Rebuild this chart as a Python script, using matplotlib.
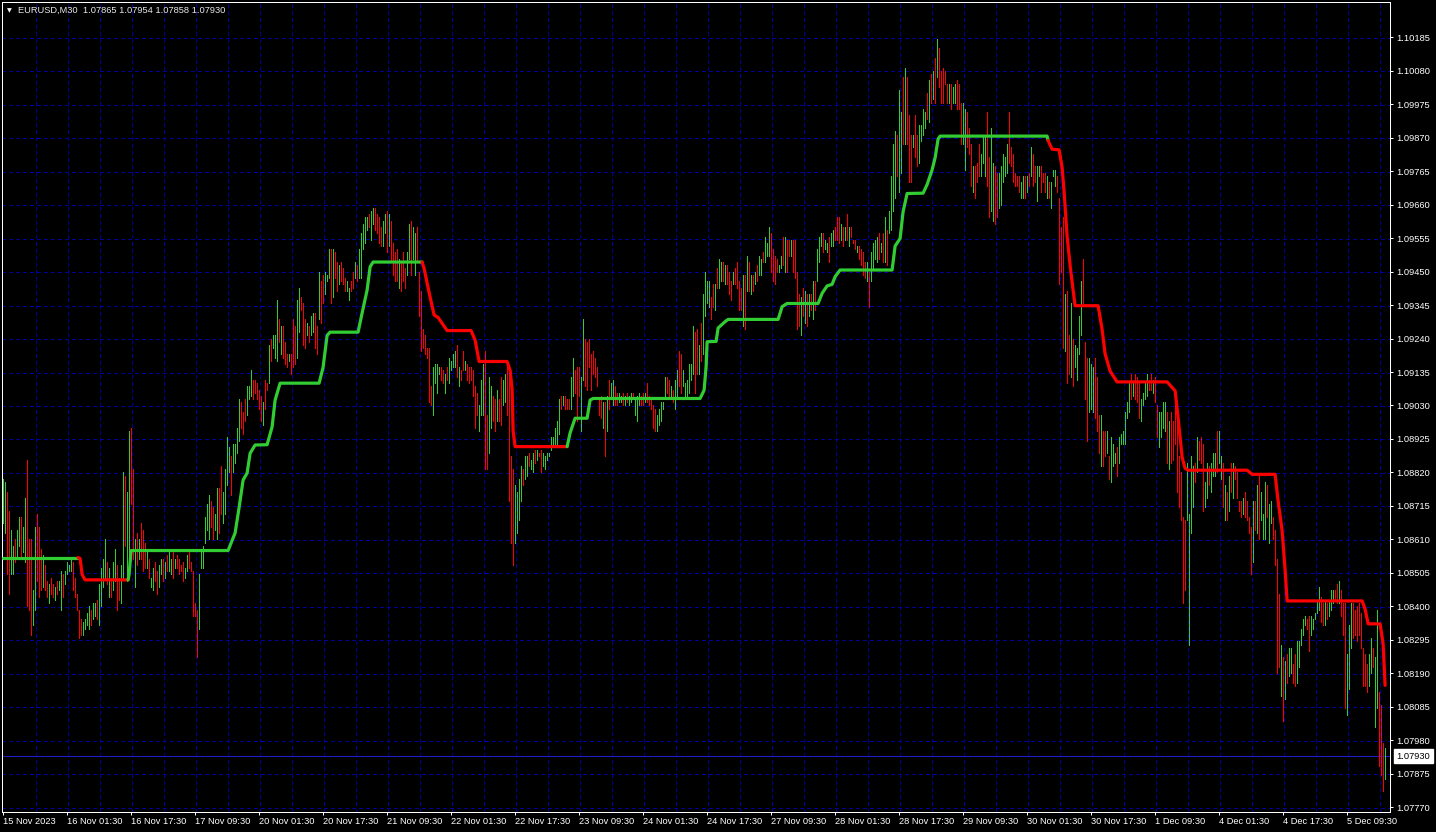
import math
import matplotlib
matplotlib.use('Agg')
import matplotlib.pyplot as plt
from matplotlib.collections import LineCollection
from matplotlib.lines import Line2D
import matplotlib.transforms as mtransforms

plt.rcParams['font.family'] = ['Liberation Sans', 'DejaVu Sans']

# EURUSD M30 bars, values in pips above 1.07000 (1 pip = 0.0001)
BASE = 1.07
HIGH = [
    180, 179, 176, 170, 164, 159, 161, 164, 168, 168,
    165, 174, 186, 161, 161, 145, 165, 169, 165, 158,
    156, 153, 148, 147, 149, 147, 146, 148, 148, 151,
    150, 151, 154, 153, 155, 154, 149, 144, 139, 136,
    135, 136, 138, 140, 139, 141, 141, 142, 147, 152,
    155, 161, 154, 152, 149, 154, 158, 153, 149, 153,
    182, 181, 176, 195, 196, 183, 161, 163, 161, 166,
    164, 160, 157, 155, 149, 152, 154, 151, 153, 155,
    155, 154, 156, 157, 155, 157, 155, 156, 155, 153,
    154, 152, 156, 157, 154, 151, 141, 139, 150, 157,
    159, 168, 172, 175, 173, 171, 169, 177, 177, 184,
    176, 183, 193, 190, 187, 191, 191, 196, 205, 204,
    201, 205, 209, 209, 214, 211, 211, 210, 208, 206,
    204, 211, 210, 222, 224, 225, 225, 236, 230, 228,
    228, 223, 219, 219, 219, 230, 228, 236, 240, 237,
    235, 230, 229, 228, 231, 232, 232, 228, 245, 242,
    244, 245, 244, 252, 252, 252, 251, 248, 247, 248,
    246, 243, 242, 240, 242, 245, 248, 247, 252, 257,
    260, 262, 262, 263, 264, 265, 265, 263, 262, 259,
    261, 263, 264, 263, 261, 254, 251, 252, 249, 248,
    251, 246, 251, 260, 261, 259, 257, 259, 245, 239,
    227, 225, 221, 221, 209, 215, 216, 216, 215, 215,
    214, 213, 215, 218, 217, 219, 220, 222, 215, 214,
    220, 217, 216, 215, 215, 214, 209, 207, 203,
    211, 216, 220, 200, 212, 209, 206, 205, 208, 205,
    212, 211, 213, 216, 215, 187, 183, 178, 176, 180,
    184, 183, 187, 187, 188, 186, 188, 189, 189, 188,
    189, 188, 187, 188, 188, 193, 193, 196, 198, 205,
    206, 206, 206, 205, 205, 212, 218, 214, 215, 215,
    212, 230, 224, 223, 224, 219, 220, 218, 215, 205,
    206, 204, 204, 206, 211, 210, 211, 209, 207, 207,
    206, 207, 206, 207, 206, 207, 207, 205, 206, 207,
    206, 207, 207, 210, 206, 205, 203, 202, 200, 202,
    204, 204, 212, 212, 211, 209, 208, 211, 214, 220,
    219, 214, 210, 211, 216, 216, 228, 226, 227, 222,
    229, 238, 245, 242, 242, 237, 241, 241, 246, 249,
    248, 248, 247, 247, 245, 242, 245, 246, 248, 242,
    240, 244, 244, 250, 248, 244, 244, 245, 247, 250,
    249, 251, 256, 254, 259, 257, 252, 250, 249, 247,
    250, 256, 256, 255, 255, 255, 255, 255, 245, 238,
    237, 240, 239, 238, 238, 238, 242, 242, 252, 256,
    257, 257, 255, 254, 256, 257, 258, 259, 262, 262,
    260, 259, 259, 263, 259, 259, 255, 255, 253, 253,
    252, 251, 248, 248, 245, 251, 254, 255, 256, 257,
    254, 257, 262, 258, 264, 275, 285, 289, 288, 302,
    295, 306, 309, 306, 294, 288, 288, 294, 288, 291,
    291, 296, 295, 301, 305, 307, 308, 312, 318, 315,
    308, 309, 308, 304, 304, 304, 303, 304, 305, 304,
    298, 298, 296, 295, 290, 285, 278, 278, 279, 285,
    282, 288, 288, 295, 281, 290, 279, 278, 276, 276,
    278, 282, 281, 285, 295, 284, 282, 276, 275, 275,
    273, 275, 275, 275, 276, 284, 282, 278, 278, 278,
    278, 276, 276, 275, 273, 273, 277, 277, 275, 268,
    259, 262, 238, 239, 225, 235, 224, 222, 221, 231,
    242, 249, 223, 218, 218, 216, 215, 218, 212, 200,
    200, 195, 195, 195, 187, 193, 191, 188, 190, 193,
    194, 195, 201, 204, 210, 213, 210, 213, 212, 210,
    205, 207, 210, 213, 211, 213, 211, 212, 203, 201,
    201, 204, 204, 201, 198, 201, 198, 208, 198, 187,
    182, 168, 167, 185, 169, 187, 184, 185, 193, 192,
    193, 191, 179, 185, 184, 185, 188, 188, 195, 195,
    187, 185, 178, 176, 181, 185, 185, 184, 182, 173,
    173, 174, 176, 173, 168, 165, 173, 173, 178, 181,
    176, 169, 179, 178, 172, 173, 168, 164, 155, 144,
    128, 124, 123, 125, 127, 127, 122, 125, 129, 129,
    133, 136, 137, 136, 137, 137, 136, 138, 142, 146,
    143, 141, 142, 141, 142, 145, 145, 145, 147, 148,
    145, 141, 141, 125, 134, 141, 141, 139, 140, 141,
    138, 127, 125, 122, 125, 130, 127, 124, 139, 113,
    109, 97, 95.4,
]
LOW = [
    166, 163, 150, 144, 150, 150, 154, 155, 159, 155,
    157, 154, 140, 139, 131, 134, 139, 148, 143, 145,
    146, 145, 143, 141, 144, 143, 142, 144, 145, 139,
    143, 147, 150, 151, 151, 145, 143, 139, 130, 131,
    131, 133, 134, 133, 134, 136, 137, 136, 134, 140,
    146, 149, 147, 143, 143, 145, 148, 139, 142, 141,
    149, 159, 148, 154, 172, 155, 146, 153, 155, 155,
    151, 152, 152, 149, 146, 145, 148, 144, 146, 150,
    148, 149, 151, 151, 150, 149, 152, 152, 150, 151,
    148, 149, 151, 152, 151, 137, 137, 124, 133, 152,
    152, 160, 164, 161, 165, 161, 164, 161, 163, 169,
    166, 169, 178, 182, 175, 182, 185, 188, 192, 196,
    194, 198, 200, 205, 206, 205, 207, 205, 202, 198,
    197, 202, 208, 210, 217, 221, 218, 217, 223, 219,
    218, 216, 215, 217, 213, 215, 216, 218, 226, 233,
    222, 221, 225, 223, 225, 226, 221, 219, 230, 229,
    235, 238, 242, 243, 235, 237, 243, 239, 241, 242,
    241, 239, 239, 236, 239, 240, 243, 242, 243, 243,
    252, 254, 258, 259, 255, 260, 258, 257, 254, 253,
    253, 257, 251, 253, 248, 244, 242, 242, 240, 239,
    242, 240, 244, 249, 244, 249, 244, 248, 231, 220,
    221, 219, 218, 204, 203, 200, 210, 207, 213, 211,
    210, 207, 211, 210, 214, 215, 215, 212, 209, 211,
    214, 214, 211, 210, 211, 206, 196, 200, 195,
    200, 200, 183, 183, 188, 196, 198, 195, 198, 198,
    197, 203, 204, 200, 173, 160, 153, 160, 163, 167,
    173, 178, 180, 181, 184, 183, 182, 185, 186, 187,
    182, 184, 183, 186, 187, 189, 190, 191, 191, 194,
    202, 203, 202, 202, 202, 202, 206, 207, 198, 206,
    195, 211, 209, 208, 215, 208, 213, 212, 209, 200,
    199, 196, 187, 195, 202, 205, 203, 203, 203, 204,
    204, 203, 203, 204, 203, 204, 205, 200, 198, 203,
    203, 203, 204, 204, 203, 202, 196, 195, 195, 197,
    198, 202, 206, 207, 206, 205, 204, 202, 206, 209,
    207, 209, 206, 205, 207, 211, 213, 207, 213, 213,
    217, 219, 231, 235, 234, 230, 234, 233, 240, 240,
    242, 242, 241, 241, 238, 236, 241, 241, 240, 233,
    233, 228, 227, 239, 239, 238, 239, 241, 242, 244,
    244, 248, 248, 250, 250, 245, 242, 241, 245, 245,
    246, 247, 245, 245, 250, 250, 245, 243, 227, 228,
    225, 231, 229, 228, 231, 233, 230, 233, 242, 248,
    253, 251, 252, 251, 248, 253, 253, 255, 255, 254,
    255, 253, 255, 255, 253, 256, 254, 252, 251, 249,
    247, 244, 243, 242, 234, 242, 246, 249, 248, 249,
    251, 248, 248, 247, 257, 258, 264, 268, 275, 270,
    276, 285, 285, 285, 273, 273, 284, 281, 278, 279,
    286, 288, 290, 293, 292, 298, 299, 298, 306, 303,
    298, 298, 304, 298, 298, 296, 298, 298, 296, 296,
    285, 285, 277, 284, 282, 272, 270, 268, 273, 275,
    275, 279, 275, 272, 262, 264, 261, 260, 262, 265,
    266, 273, 275, 276, 279, 278, 273, 272, 272, 270,
    268, 268, 268, 270, 272, 275, 272, 273, 267, 275,
    270, 273, 270, 268, 268, 265, 275, 272, 270, 241,
    245, 221, 220, 210, 213, 212, 209, 215, 211, 219,
    225, 235, 205, 192, 201, 202, 201, 199, 195, 188,
    184, 184, 187, 188, 180, 179, 184, 185, 181, 185,
    191, 191, 191, 199, 201, 205, 206, 205, 204, 199,
    198, 203, 205, 206, 208, 208, 207, 204, 193, 190,
    193, 196, 195, 185, 183, 185, 186, 191, 176, 171,
    167, 141, 145, 167, 128, 163, 171, 179, 182, 186,
    185, 170, 171, 174, 178, 176, 181, 181, 182, 185,
    180, 171, 167, 167, 170, 176, 174, 180, 174, 170,
    168, 169, 168, 167, 163, 150, 154, 164, 163, 161,
    167, 161, 161, 168, 160, 166, 161, 153, 119, 121,
    112, 104, 111, 116, 118, 119, 116, 115, 116, 121,
    128, 131, 134, 133, 126, 131, 133, 136, 138, 139,
    135, 134, 134, 136, 137, 139, 141, 142, 141, 141,
    137, 131, 108, 106, 114, 127, 130, 131, 129, 131,
    127, 115, 115, 113, 115, 119, 121, 102, 108, 90,
    87, 82, 85.8,
]
# g = up bar, r = down bar
DIRS = (
    "ggrrggrggr" "ggrrrggrrr" "grrgrrgrgg" "rggggrrrrr" "ggggrggrgg"
    "ggrgrggrrg" "grggrrgrgr" "rrgrggrrgg" "rgrggrgrrr" "rggrrrrrgg"
    "ggggrrggrr" "ggggrggggr" "rrgggrrrrr" "grrgrgggrg" "rrrgrrrggr"
    "rrgrggrrgr" "rgggrgrrgr" "rrggrrgrgg" "gggrggrrrr" "ggrgrrrrgr"
    "rrggrggrrr" "rrrrrggggr" "rgrggggrgr" "rgrrrrrrg"
    "ggrrggrrgr" "rggrrrrggg" "grggrggrgr" "rggggggggg" "rgrrrggrrr"
    "ggrrrrrrrr" "rgrgrggrrg" "grgrggrggg" "rrgrrrrrgg" "gggrrgrggr"
    "rggggggrrg" "rggggrrgrg" "grgrrrgrrr" "rgrgrgrgrg" "grgggrrrrg"
    "grgrrgrrrr" "grgrgrgrgg" "grggrggrrr" "grgrgrrrgr" "rrrgrggggr"
    "grgrggggrg" "grgrrrgrrg" "gggrgrgrgr" "rrrrgrggrr" "rggrrrgrrr"
    "gggrrggrrg" "ggggrrrrrr" "ggrgrgrrgg" "rrrgrgggrr" "rrgrrgrggg"
    "grrrgggrrr" "grrgrgggrg" "gggggrgrrr" "ggggrrgrrg" "gggrgrrrrr"
    "rrrggggrgr" "rrggrgggrg" "grgrgrgrrr" "rgrrrrgrgr" "gggrggrrrr"
    "grgrggrrgg" "gggrrggggg" "rrgrgggrrg" "rrrgggrrrr" "rrrrggrggr"
    "rrg"
)

# trend line vertices: bar index, pips above BASE, trend (g up / r down)
LINE_BAR = [
    0, 37.4, 38.4, 39.4, 40.9, 62.4, 62.9, 63.9, 112.4, 115.9,
    117.9, 119.9, 121.9, 123.4, 125.9, 131.9, 134.4, 135.9, 138.4, 157.9,
    159.9, 161.9, 163.4, 177.4, 179.4, 181.9, 183.4, 184.9, 209.4, 210.4,
    211.9, 213.4, 215.4, 217.4, 221.9, 233.9, 235.9, 237.9, 251.9, 253.4,
    254.4, 254.9, 255.9, 281.9, 283.4, 285.9, 291.9, 293.4, 294.9, 348.4,
    350.4, 351.4, 351.9, 356.4, 357.4, 360.9, 362.4, 387.4, 389.4, 391.9,
    407.4, 409.4, 411.9, 414.4, 415.9, 418.4, 444.4, 445.9, 448.4, 449.9,
    451.9, 459.9, 461.9, 464.4, 465.9, 467.4, 468.4, 521.9, 522.4, 524.4,
    527.9, 529.4, 530.4, 531.9, 533.4, 534.9, 535.9, 547.4, 549.4, 550.9,
    553.4, 556.9, 581.9, 585.9, 587.4, 589.4, 590.9, 592.4, 621.9, 624.4,
    635.9, 637.4, 639.4, 640.9, 641.9, 679.4, 680.9, 682.4, 688.4, 689.9,
    690.9,
]
LINE_PIP = [
    155.3, 155.3, 155.0, 150.0, 148.3, 148.3, 150.0, 157.5, 157.5, 163.0,
    171.0, 179.6, 181.8, 188.0, 190.6, 190.7, 196.3, 204.7, 210.0, 210.0,
    215.0, 225.0, 226.0, 226.0, 232.0, 239.2, 246.5, 248.0, 248.0, 246.0,
    241.4, 237.0, 231.4, 230.6, 226.5, 226.5, 223.5, 216.8, 216.8, 214.0,
    208.0, 195.0, 190.1, 190.1, 194.4, 199.0, 199.0, 204.7, 205.2, 205.2,
    207.8, 215.2, 223.0, 223.1, 227.3, 229.3, 230.0, 230.0, 234.0, 235.0,
    235.0, 238.2, 240.5, 241.0, 243.4, 245.5, 245.5, 253.0, 255.4, 263.8,
    269.5, 269.6, 272.3, 276.9, 280.7, 286.6, 287.5, 287.5, 286.1, 283.4,
    283.2, 277.7, 270.0, 256.1, 246.9, 239.2, 234.3, 234.3, 226.9, 219.2,
    213.8, 210.4, 210.4, 207.6, 199.2, 186.8, 183.3, 182.7, 182.7, 181.4,
    181.4, 173.0, 163.7, 151.4, 141.7, 141.7, 139.1, 134.5, 134.5, 128.3,
    115.2,
]
LINE_TREND = (
    "ggrrrrgggg" "gggggggggg" "gggggggggr" "rrrrrrrrrr"
    "rrrrgggggg" "gggggggggg" "gggggggggg" "gggggggggr"
    "rrrrrrrrrr" "rrrrrrrrrr" "rrrrrrrrrr" "r"
)

PRICE_TICKS = [
    1.10185, 1.10080, 1.09975, 1.09870, 1.09765, 1.09660, 1.09555, 1.09450,
    1.09345, 1.09240, 1.09135, 1.09030, 1.08925, 1.08820, 1.08715, 1.08610,
    1.08505, 1.08400, 1.08295, 1.08190, 1.08085, 1.07980, 1.07875, 1.07770,
]
TIME_LABELS = [
    '15 Nov 2023', '16 Nov 01:30', '16 Nov 17:30', '17 Nov 09:30',
    '20 Nov 01:30', '20 Nov 17:30', '21 Nov 09:30', '22 Nov 01:30',
    '22 Nov 17:30', '23 Nov 09:30', '24 Nov 01:30', '24 Nov 17:30',
    '27 Nov 09:30', '28 Nov 01:30', '28 Nov 17:30', '29 Nov 09:30',
    '30 Nov 01:30', '30 Nov 17:30', '1 Dec 09:30', '4 Dec 01:30',
    '4 Dec 17:30', '5 Dec 09:30',
]
LAST_PRICE = 1.07930
TITLE = 'EURUSD,M30  1.07865 1.07954 1.07858 1.07930'

UP = '#32cd32'
DOWN = '#ff0000'
GRID = '#000096'
W, H = 1436, 832

fig = plt.figure(figsize=(W / 100, H / 100), dpi=100, facecolor='black')
ax = fig.add_axes([2 / W, 20 / H, 1388 / W, 810 / H], facecolor='black')
ax.set_xlim(-0.65, 693.35)
ax.set_ylim(BASE + 75.48 / 1e4, BASE + 329.57 / 1e4)

n = min(len(HIGH), len(LOW), len(DIRS))
segs = [[(i, BASE + LOW[i] / 1e4), (i, BASE + HIGH[i] / 1e4)] for i in range(n)]
cols = [UP if DIRS[i] == 'g' else DOWN for i in range(n)]
ax.add_collection(LineCollection(segs, colors=cols, linewidths=0.72,
                                 antialiaseds=False, zorder=2),
                  autolim=False)

# grid lines placed on pixel centres so all of them render alike;
# width just under 1 px keeps each one a single pixel wide
ident = mtransforms.IdentityTransform()
bb = ax.bbox
dash = (0, (3.6, 3.6))   # 3 px on, 3 px off at lw 0.6


def pix(v):
    return math.floor(v) + 0.5


def grid_line(xs, ys, **kw):
    ln = Line2D(xs, ys, transform=ident, zorder=0, **kw)
    ax.add_artist(ln)


for p in PRICE_TICKS:
    y = pix(ax.transData.transform((0, p))[1])
    grid_line([bb.x0, bb.x1], [y, y], color=GRID, lw=0.6, ls=dash,
              antialiased=False)
for k in range(1, n // 16 + 1):
    x = pix(ax.transData.transform((16 * k, BASE))[0])
    grid_line([x, x], [bb.y0, bb.y1], color=GRID, lw=0.6, ls=dash,
              antialiased=False)
# current price line
y = pix(ax.transData.transform((0, LAST_PRICE))[1])
grid_line([bb.x0, bb.x1], [y, y], color='#1c1cc8', lw=0.72,
          antialiased=True, snap=False)

# trend line, split into same-colour runs
m = min(len(LINE_BAR), len(LINE_PIP), len(LINE_TREND))
start = 0
for j in range(1, m + 1):
    if j == m or LINE_TREND[j] != LINE_TREND[start]:
        a = max(start - 1, 0)
        xs = LINE_BAR[a:j]
        ys = [BASE + v / 1e4 for v in LINE_PIP[a:j]]
        c = UP if LINE_TREND[start] == 'g' else DOWN
        ax.plot(xs, ys, color=c, lw=2.3, solid_capstyle='round',
                solid_joinstyle='round', zorder=3, scalex=False, scaley=False)
        start = j

ax.yaxis.tick_right()
ax.set_yticks(PRICE_TICKS)
ax.set_yticklabels([f'{p:.5f}' for p in PRICE_TICKS])
ax.set_xticks([32 * k for k in range(len(TIME_LABELS))])
ax.set_xticklabels(TIME_LABELS, ha='left')
ax.tick_params(axis='y', colors='white', length=2.5, width=0.72, pad=2.2,
               labelsize=6.7)
ax.tick_params(axis='x', colors='white', length=2.2, width=0.72, pad=1.2,
               labelsize=6.7)
for s in ax.spines.values():
    s.set_color('white')
    s.set_linewidth(0.72)
ax.set_xlim(-0.65, 693.35)
ax.set_ylim(BASE + 75.48 / 1e4, BASE + 329.57 / 1e4)

# last price box on the price scale
tr = mtransforms.blended_transform_factory(fig.transFigure, ax.transData)
ax.text(1396.5 / W, LAST_PRICE, f'{LAST_PRICE:.5f}', transform=tr,
        color='black', fontsize=6.7, va='center', ha='left', clip_on=False,
        bbox=dict(boxstyle='square,pad=0.25', fc='white', ec='white'))

fig.text(9.5 / W, 1 - 10.5 / H, '\u25bc', color='white', fontsize=4.5,
         ha='center', va='center', family='DejaVu Sans')
fig.text(17.5 / W, 1 - 10.7 / H, TITLE, color='#e8e8e8', fontsize=6.7,
         ha='left', va='center')

fig.savefig('out.png', dpi=100, facecolor='black')
